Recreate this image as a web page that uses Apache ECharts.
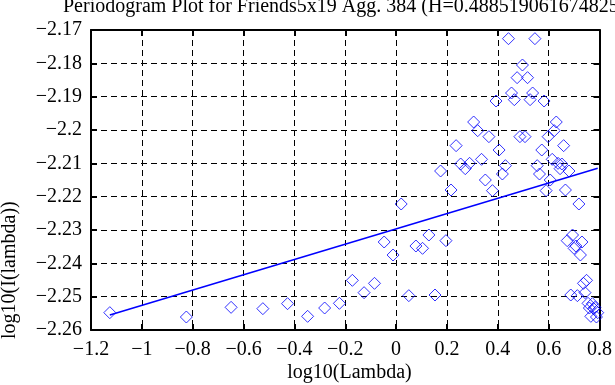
<!DOCTYPE html>
<html>
<head>
<meta charset="utf-8">
<script src="https://cdn.jsdelivr.net/npm/echarts@6/dist/echarts.min.js"></script>
<style>
html,body{margin:0;padding:0;background:#fff;}
#chart{width:615px;height:385px;}
</style>
</head>
<body>
<div id="chart"></div>
<script>
var titleText = 'Periodogram Plot for Friends5x19 Agg. 384 (H=0.488519061674825)';
var xLabel = 'log10(Lambda)';
var yLabel = 'log10(I(lambda))';

var logLambda = [
  -1.126, -0.825, -0.649, -0.524, -0.427, -0.348, -0.281, -0.223, -0.172, -0.126,
  -0.085, -0.047, -0.012, 0.020, 0.050, 0.078, 0.104, 0.129, 0.153, 0.175,
  0.196, 0.216, 0.236, 0.254, 0.272, 0.289, 0.305, 0.321, 0.336, 0.351,
  0.365, 0.379, 0.393, 0.405, 0.418, 0.430, 0.442, 0.454, 0.465, 0.476,
  0.487, 0.497, 0.507, 0.517, 0.527, 0.537, 0.546, 0.555, 0.564, 0.573,
  0.582, 0.590, 0.598, 0.606, 0.614, 0.622, 0.630, 0.637, 0.645, 0.652,
  0.659, 0.666, 0.673, 0.680, 0.687, 0.694, 0.700, 0.707, 0.713, 0.719,
  0.725, 0.731, 0.737, 0.743, 0.749, 0.755, 0.760, 0.766, 0.772, 0.777,
  0.782, 0.788, 0.793
];

var logPeriodogram = [
  -2.2548, -2.2561, -2.2532, -2.2536, -2.2521, -2.2559, -2.2534, -2.2520, -2.2451, -2.2488,
  -2.2460, -2.2336, -2.2375, -2.2222, -2.2497, -2.2348, -2.2355, -2.2315, -2.2495, -2.2123,
  -2.2332, -2.2180, -2.2047, -2.2102, -2.2116, -2.2100, -2.1976, -2.2002, -2.2088, -2.2150,
  -2.2020, -2.2182, -2.1913, -2.2060, -2.2132, -2.2107, -2.1726, -2.1889, -2.1909, -2.1843,
  -2.2020, -2.1805, -2.2020, -2.1843, -2.1909, -2.1889, -2.1726, -2.2107, -2.2132, -2.2060,
  -2.1913, -2.2182, -2.2020, -2.2150, -2.2088, -2.2002, -2.1976, -2.2100, -2.2116, -2.2102,
  -2.2047, -2.2180, -2.2332, -2.2123, -2.2495, -2.2315, -2.2355, -2.2348, -2.2497, -2.2222,
  -2.2375, -2.2336, -2.2460, -2.2488, -2.2451, -2.2520, -2.2534, -2.2559, -2.2521, -2.2536,
  -2.2532, -2.2561, -2.2548
];

var fitX = [-1.126, 0.793];
var fitY = [-2.2555, -2.2115];

var FONT = '"Liberation Serif", "Times New Roman", serif';
var fmt = function (v) { return String(+v.toFixed(4)).replace('-', '\u2212'); };

var scatterData = logLambda.map(function (x, i) { return [x, logPeriodogram[i]]; });
var fitData = fitX.map(function (x, i) { return [x, fitY[i]]; });

var chart = echarts.init(document.getElementById('chart'), null, {renderer: 'canvas'});

var gridLine = {show: true, lineStyle: {color: '#000', width: 1, type: [6, 4]}};
var tick = {show: true, inside: true, length: 6, lineStyle: {color: '#000', width: 2}};
var axisLine = {show: true, onZero: false, lineStyle: {color: '#000', width: 2}};

chart.setOption({
  animation: false,
  backgroundColor: '#fff',
  title: {
    text: titleText,
    left: 63, top: -3, padding: 0,
    textStyle: {fontFamily: FONT, fontSize: 20, fontWeight: 'normal', color: '#000'}
  },
  graphic: [
    {type: 'text', x: 349.5, y: 363, style: {text: xLabel, font: '20px ' + FONT, fill: '#000', align: 'center', verticalAlign: 'top'}},
    {type: 'text', x: 0, y: 339, rotation: Math.PI / 2, style: {text: yLabel, font: '20px ' + FONT, fill: '#000', align: 'left', verticalAlign: 'top'}}
  ],
  grid: {left: 91, right: 7, top: 30, bottom: 55, containLabel: false},
  xAxis: [{
    type: 'value', min: -1.2, max: 0.8, interval: 0.2,
    axisLine: axisLine, axisTick: tick, splitLine: gridLine,
    axisLabel: {formatter: fmt, fontFamily: FONT, fontSize: 20, color: '#000', margin: 10}
  }, {
    type: 'value', position: 'top', min: -1.2, max: 0.8, interval: 0.2,
    axisLine: axisLine, axisTick: tick, splitLine: {show: false}, axisLabel: {show: false}
  }],
  yAxis: [{
    type: 'value', min: -2.26, max: -2.17, interval: 0.01,
    axisLine: axisLine, axisTick: tick, splitLine: gridLine,
    axisLabel: {formatter: fmt, fontFamily: FONT, fontSize: 20, color: '#000', margin: 9}
  }, {
    type: 'value', position: 'right', min: -2.26, max: -2.17, interval: 0.01,
    axisLine: axisLine, axisTick: tick, splitLine: {show: false}, axisLabel: {show: false}
  }],
  series: [{
    type: 'scatter',
    data: scatterData,
    symbol: 'diamond',
    symbolSize: 12,
    itemStyle: {color: 'transparent', borderColor: '#0000ff', borderWidth: 1},
    z: 3
  }, {
    type: 'line',
    data: fitData,
    showSymbol: false,
    symbol: 'none',
    lineStyle: {color: '#0000ff', width: 1.5},
    z: 4
  }]
});
</script>
</body>
</html>
